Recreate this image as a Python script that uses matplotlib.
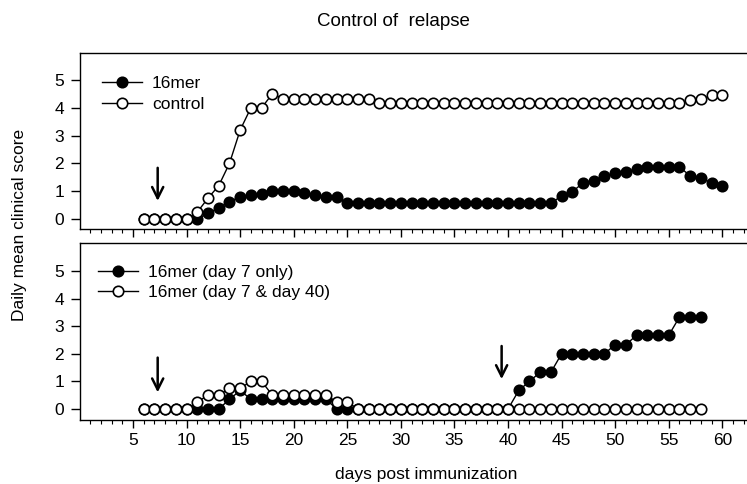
import numpy as np
import matplotlib
matplotlib.use("Agg")
import matplotlib.pyplot as plt
from matplotlib.lines import Line2D

plt.rcParams["font.family"] = ["Liberation Sans", "DejaVu Sans"]

# ---- data ----
days_top = list(range(6, 61))
control = [0, 0, 0, 0, 0,
           0.25, 0.75, 1.2, 2.0, 3.2, 4.0, 4.0, 4.5,
           4.33, 4.33, 4.33, 4.33, 4.33, 4.33, 4.33, 4.33, 4.33,
           4.17, 4.17, 4.17, 4.17, 4.17, 4.17, 4.17, 4.17, 4.17, 4.17,
           4.17, 4.17, 4.17, 4.17, 4.17, 4.17, 4.17, 4.17, 4.17, 4.17,
           4.17, 4.17, 4.17, 4.17, 4.17, 4.17, 4.17, 4.17, 4.17,
           4.28, 4.3, 4.45, 4.45]
mer16 = [0, 0, 0, 0, 0, 0,
         0.2, 0.4, 0.62, 0.8, 0.88, 0.9, 1.02, 1.02, 1.0, 0.92, 0.86, 0.8, 0.8,
         0.57, 0.57, 0.57, 0.57, 0.57, 0.57, 0.57, 0.57, 0.57, 0.57,
         0.57, 0.57, 0.57, 0.57, 0.57, 0.57, 0.57, 0.57, 0.57, 0.57,
         0.83, 0.98, 1.3, 1.38, 1.55, 1.64, 1.7, 1.8, 1.87, 1.87, 1.87, 1.87,
         1.55, 1.46, 1.31, 1.19]

days_bot = list(range(6, 59))
day7_only = [0, 0, 0, 0, 0, 0, 0, 0,
             0.35, 0.67, 0.35, 0.35, 0.35, 0.35, 0.35, 0.35, 0.35, 0.35,
             0, 0, 0, 0, 0, 0, 0, 0, 0, 0, 0, 0, 0, 0, 0, 0, 0,
             0.67, 1.0, 1.33, 1.33, 2.0, 2.0, 2.0, 2.0, 2.0, 2.33, 2.33,
             2.67, 2.67, 2.67, 2.67, 3.33, 3.33, 3.33]
day7_40 = [0, 0, 0, 0, 0,
           0.25, 0.5, 0.5, 0.75, 0.75, 1.0, 1.0,
           0.5, 0.5, 0.5, 0.5, 0.5, 0.5, 0.25, 0.25,
           0, 0, 0, 0, 0, 0, 0, 0, 0, 0, 0, 0, 0, 0, 0, 0, 0,
           0, 0, 0, 0, 0, 0, 0, 0, 0, 0, 0, 0, 0, 0, 0, 0]

arrows_top = [7.3]
arrows_bot = [7.3, 39.4]

FS = 12.5
mk = dict(color="black", lw=1.0, marker="o", ms=7.5, mew=1.2, mec="black")


def style_axis(ax, ylim, labels):
    ax.set_xlim(0.05, 62.3)
    ax.set_ylim(*ylim)
    ax.set_yticks(range(0, 6))
    ax.set_xticks(range(5, 61, 5))
    ax.set_xticks(range(1, 63), minor=True)
    ax.spines["right"].set_visible(False)
    for s in ax.spines.values():
        s.set_linewidth(1.0)
    ax.tick_params(axis="y", direction="out", length=6.5, width=1.0, pad=5, labelsize=FS)
    ax.tick_params(axis="x", which="major", direction="out", length=5.8, width=1.0,
                   pad=3.5, labelsize=FS, labelbottom=labels)
    ax.tick_params(axis="x", which="minor", direction="out", length=3, width=0.8)


def add_arrows(ax, xs, y0, y1):
    for x in xs:
        ax.annotate("", xy=(x, y1), xytext=(x, y0),
                    arrowprops=dict(arrowstyle="->", color="black", lw=1.8,
                                    mutation_scale=20))


fig = plt.figure(figsize=(7.47, 4.84), dpi=100)
ax1 = fig.add_axes([80 / 747, 1 - 229 / 484, 667 / 747, 176 / 484])
ax2 = fig.add_axes([80 / 747, 1 - 420 / 484, 667 / 747, 177 / 484])

# top panel
ax1.plot(days_top, mer16, mfc="black", zorder=3, **mk)
ax1.plot(days_top, control, mfc="white", zorder=4, **mk)
style_axis(ax1, (-0.36, 5.97), False)
add_arrows(ax1, arrows_top, 1.94, 0.55)
h1 = [Line2D([], [], mfc="black", **mk), Line2D([], [], mfc="white", **mk)]
ax1.legend(h1, ["16mer", "control"], loc="upper left", bbox_to_anchor=(0.033, 0.87),
           frameon=False, fontsize=FS, handlelength=2.3, handletextpad=0.57,
           labelspacing=0.36, borderpad=0, borderaxespad=0)

# bottom panel
ax2.plot(days_bot, day7_only, mfc="black", zorder=3, **mk)
ax2.plot(days_bot, day7_40, mfc="white", zorder=4, **mk)
style_axis(ax2, (-0.40, 6.01), True)
add_arrows(ax2, arrows_bot[:1], 1.96, 0.5)
add_arrows(ax2, arrows_bot[1:], 2.38, 0.98)
h2 = [Line2D([], [], mfc="black", **mk), Line2D([], [], mfc="white", **mk)]
ax2.legend(h2, ["16mer (day 7 only)", "16mer (day 7 & day 40)"], loc="upper left",
           bbox_to_anchor=(0.027, 0.876), frameon=False, fontsize=FS, handlelength=2.3,
           handletextpad=0.57, labelspacing=0.25, borderpad=0, borderaxespad=0)

fig.text(393 / 747, 1 - 22 / 484, "Control of  relapse", ha="center", va="center", fontsize=13.5)
fig.text(20 / 747, 1 - 225 / 484, "Daily mean clinical score", rotation=90,
         ha="center", va="center", fontsize=FS)
fig.text(426 / 747, 1 - 475 / 484, "days post immunization", ha="center", va="center", fontsize=FS)

fig.savefig("out.png", dpi=100)
